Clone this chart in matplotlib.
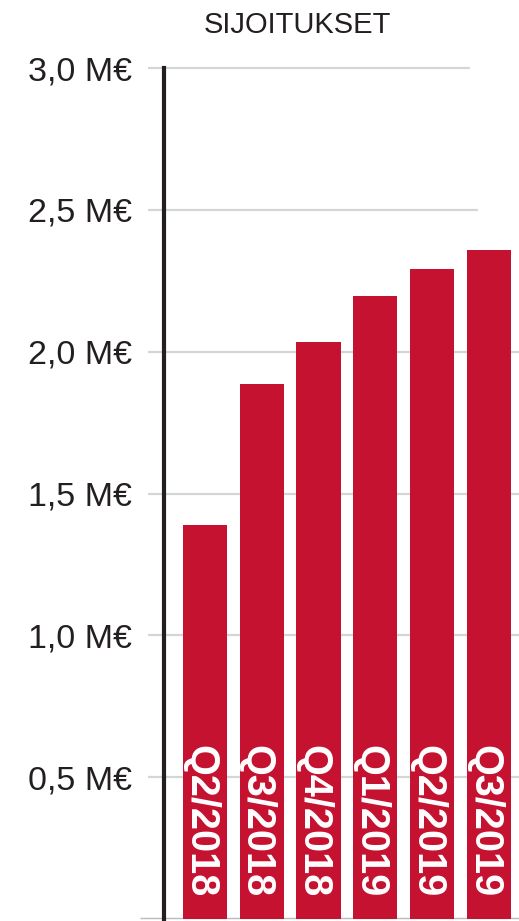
import matplotlib
matplotlib.use("Agg")
import matplotlib.pyplot as plt
from matplotlib.transforms import offset_copy

categories = ["Q2/2018", "Q3/2018", "Q4/2018", "Q1/2019", "Q2/2019", "Q3/2019"]
values = [1.39, 1.885, 2.035, 2.195, 2.29, 2.36]
tick_values = [0.5, 1.0, 1.5, 2.0, 2.5, 3.0]
tick_labels = ["0,5 M€", "1,0 M€", "1,5 M€", "2,0 M€", "2,5 M€", "3,0 M€"]
title = "SIJOITUKSET"

plt.rcParams['font.family'] = ['Liberation Sans', 'DejaVu Sans']

W, H = 519, 921
fig = plt.figure(figsize=(W / 100, H / 100), dpi=100)
ax = fig.add_axes([164 / W, 2 / H, (W - 164) / W, (919 - 68) / H])

bar_color = "#c41230"
grid_color = "#d4d5d7"
dark = "#231f20"

x = list(range(len(categories)))
ax.set_xlim(-0.72, 5.53)
ax.set_ylim(0, 3.0)

# gridlines (behind bars), extending left of spine as tick marks
grid_right = {3.0: 4.67, 2.5: 4.81}
for v in tick_values:
    ax.hlines(v, -1.0, grid_right.get(v, 5.53), color=grid_color, lw=1.6,
              clip_on=False, zorder=1)
ax.hlines(0.003, -1.15, 5.53, color="#bbbbbb", lw=1.0, clip_on=False, zorder=1)

ax.bar(x, values, width=0.775, color=bar_color, zorder=2)

trans = offset_copy(ax.transData, fig=fig, x=-5, y=0, units="dots")
for xi, lab in zip(x, categories):
    ax.text(xi, 0.076, lab, rotation=270, ha="center", va="bottom",
            color="white", fontsize=28.5, fontweight="bold", zorder=3,
            transform=trans)

ax.set_yticks(tick_values)
ax.set_yticklabels(tick_labels, fontsize=24.5, color=dark)
ax.tick_params(axis="y", length=0, pad=23)
ax.set_xticks([])

for s in ["top", "right", "bottom"]:
    ax.spines[s].set_visible(False)
ax.spines["left"].set_color(dark)
ax.spines["left"].set_linewidth(3.0)
ax.spines["left"].set_zorder(4)

fig.text(297 / W, 1 - 25 / H, title, ha="center", va="center",
         fontsize=21, color=dark)

fig.savefig("out.png", dpi=100)
